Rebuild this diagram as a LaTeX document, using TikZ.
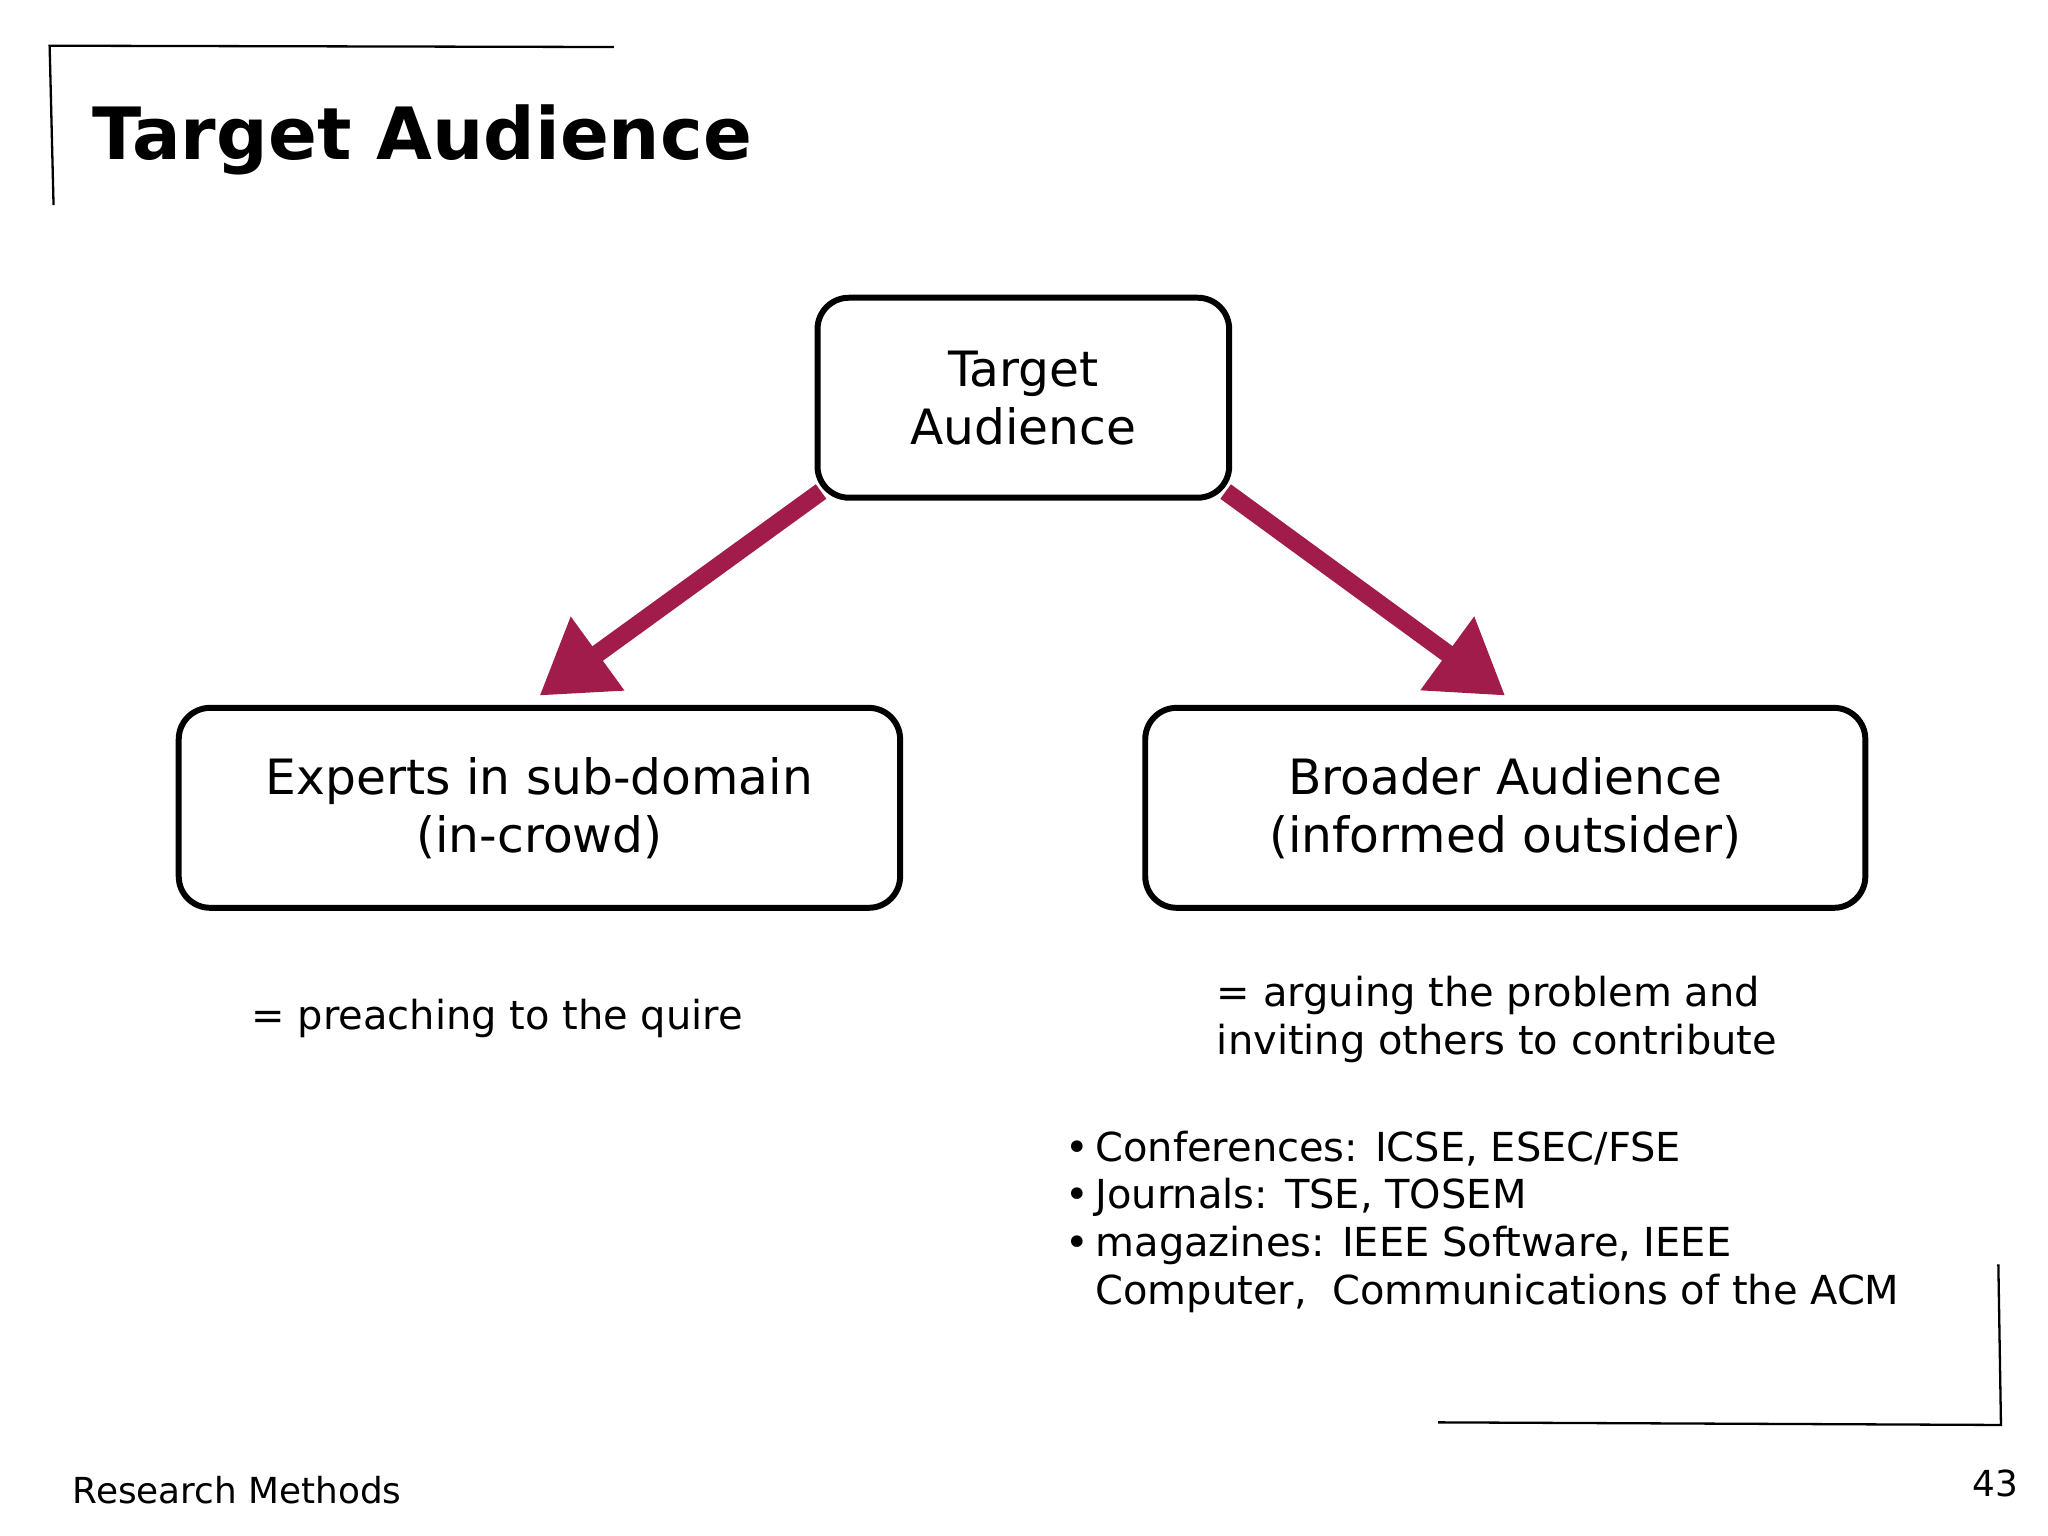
\documentclass[tikz,border=0pt]{standalone}
\usepackage{fontspec}
\setmainfont{DejaVu Sans}
\usetikzlibrary{arrows.meta}
\definecolor{crim}{HTML}{A11C4A}
\begin{document}
\begin{tikzpicture}[x=0.01cm,y=-0.01cm,
  box/.style={draw,line width=1.3pt,rounded corners=0.24cm,inner sep=0pt,align=center,font=\fontsize{10.6pt}{12.6pt}\selectfont},
  arr/.style={draw=crim,line width=3.9pt,-{Triangle[length=0.55cm,width=0.66cm]}},
  txt/.style={font=\fontsize{8.7pt}{10.4pt}\selectfont,inner sep=0pt,align=left}]
\useasboundingbox (0,0) rectangle (1568,1176);
\draw[line width=0.5pt] (470,36) -- (38,35) -- (41,157);
\draw[line width=0.5pt] (1101,1089) -- (1532,1091) -- (1530,968);
\node[anchor=base west,inner sep=0pt,font=\fontsize{15.7pt}{18pt}\selectfont\bfseries] (title) at (70,122) {Target Audience};
\node[box,minimum width=3.15cm,minimum height=1.53cm] (top) at (783.5,304.5) {Target\\Audience};
\node[box,minimum width=5.52cm,minimum height=1.53cm] (left) at (413,618.5) {Experts in sub-domain\\(in-crowd)};
\node[box,minimum width=5.51cm,minimum height=1.53cm] (right) at (1152.5,618.5) {Broader Audience\\(informed outsider)};
\coordinate (ls) at ([shift={(0.05cm,0.07cm)}]top.south west);
\coordinate (rs) at ([shift={(-0.05cm,0.07cm)}]top.south east);
\coordinate (lend) at ([yshift=0.07cm]left.north);
\coordinate (rend) at ([yshift=0.07cm]right.north);
\draw[arr] (ls) -- (lend);
\draw[arr] (rs) -- (rend);
\node[txt,anchor=west] (pq) at (192,780) {= preaching to the quire};
\node[txt,anchor=north west] (ar) at (931,747) {= arguing the problem and\\inviting others to contribute};
\node[txt,anchor=north west] (bl) at (815,865) {\textbullet\,Conferences: ICSE, ESEC/FSE\\\textbullet\,Journals: TSE, TOSEM\\\textbullet\,magazines: IEEE Software, IEEE\\\phantom{\textbullet\,}Computer,\ \ Communications of the ACM};
\node[anchor=base west,inner sep=0pt,font=\fontsize{7.8pt}{9pt}\selectfont] (foot) at (55,1151) {Research Methods};
\node[anchor=base east,inner sep=0pt,font=\fontsize{7.8pt}{9pt}\selectfont] (num) at (1546,1146) {43};
\end{tikzpicture}
\end{document}
